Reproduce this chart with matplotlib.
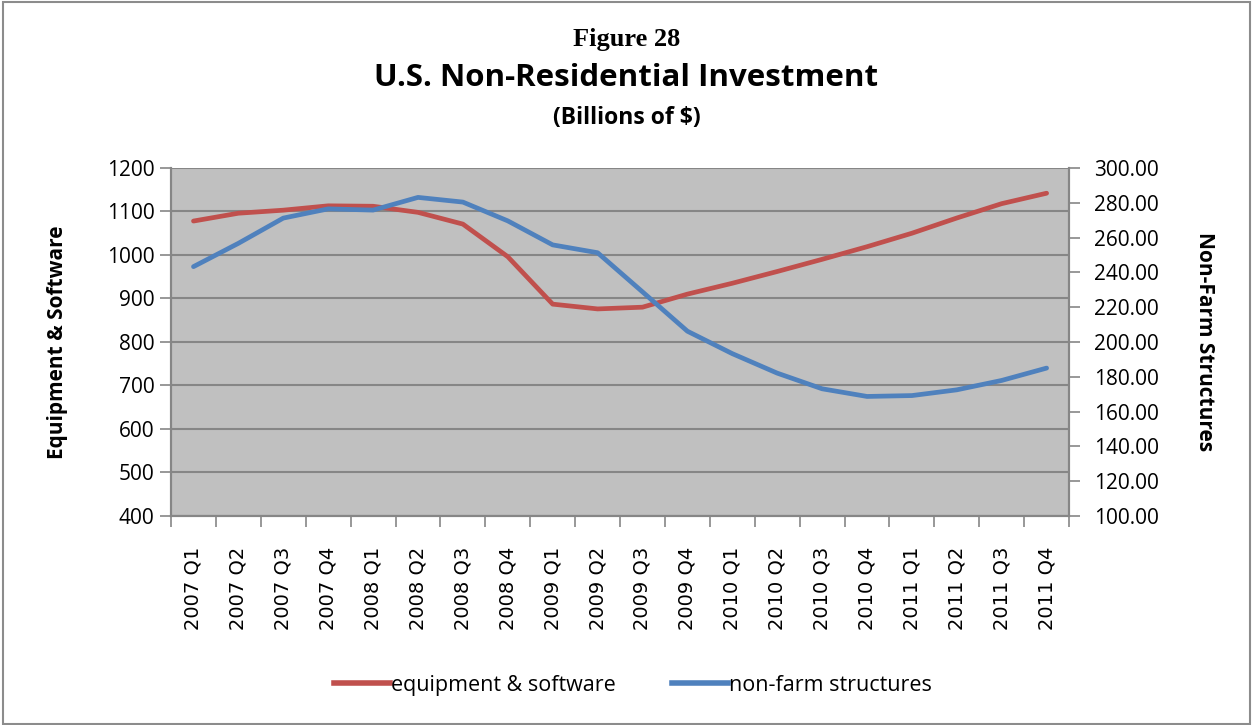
import matplotlib.pyplot as plt
from matplotlib.lines import Line2D
from matplotlib.patches import Rectangle

# ------------------------------------------------------------------------------
# Data
# ------------------------------------------------------------------------------
quarters = [
    "2007 Q1", "2007 Q2", "2007 Q3", "2007 Q4",
    "2008 Q1", "2008 Q2", "2008 Q3", "2008 Q4",
    "2009 Q1", "2009 Q2", "2009 Q3", "2009 Q4",
    "2010 Q1", "2010 Q2", "2010 Q3", "2010 Q4",
    "2011 Q1", "2011 Q2", "2011 Q3", "2011 Q4",
]
equip_software = [
    1078, 1096, 1103, 1113, 1112, 1098, 1071, 996, 887, 876,
    880, 910, 935, 962, 990, 1019, 1050, 1085, 1118, 1142,
]
nonfarm_struct = [
    243.3, 256.7, 271.2, 276.5, 275.8, 283.1, 280.4, 269.6, 255.8, 251.3,
    228.8, 206.2, 193.3, 182.1, 173.1, 168.7, 169.2, 172.5, 177.9, 185.0,
]
left_ticks = [400, 500, 600, 700, 800, 900, 1000, 1100, 1200]
right_ticks = [100, 120, 140, 160, 180, 200, 220, 240, 260, 280, 300]

RED = "#C0504D"
BLUE = "#4F81BD"
GRID = "#868686"
SANS = "Open Sans"

fig = plt.figure(figsize=(12.53, 7.25), dpi=100)
ax = fig.add_axes([0.1365, 0.2883, 0.7167, 0.48])
ax2 = ax.twinx()

x = list(range(len(quarters)))
ax.plot(x, equip_software, color=RED, lw=3.4, solid_capstyle="round", zorder=3)
ax2.plot(x, nonfarm_struct, color=BLUE, lw=3.4, solid_capstyle="round", zorder=3)

# left axis
ax.set_facecolor("#C0C0C0")
ax.set_xlim(-0.5, len(quarters) - 0.5)
ax.set_ylim(400, 1200)
ax.set_yticks(left_ticks)
ax.set_yticklabels([str(v) for v in left_ticks], fontsize=15, family=SANS)
ax.yaxis.grid(True, color=GRID, lw=1.5)
ax.set_axisbelow(True)

# category ticks sit on the boundaries, labels in the middle
ax.set_xticks([i - 0.5 for i in range(len(quarters) + 1)])
ax.set_xticklabels([])
ax.set_xticks(x, minor=True)
ax.set_xticklabels(quarters, minor=True, rotation=90, fontsize=14,
                   family="DejaVu Sans")
ax.tick_params(axis="x", which="minor", length=0, pad=22)
ax.tick_params(axis="x", which="major", length=8, color=GRID, width=1.2)
ax.tick_params(axis="y", length=8, color=GRID, width=1.2, pad=4)

ax.set_ylabel("Equipment & Software", fontsize=15, fontweight="bold",
              family=SANS, labelpad=28)

# right axis
ax2.set_ylim(100, 300)
ax2.set_yticks(right_ticks)
ax2.set_yticklabels([f"{v:.2f}" for v in right_ticks], fontsize=15, family=SANS)
ax2.tick_params(axis="y", length=8, color=GRID, width=1.2, pad=10)
ax2.set_ylabel("Non-Farm Structures", fontsize=15, fontweight="bold",
               family=SANS, rotation=-90, labelpad=40)

for a in (ax, ax2):
    for s in a.spines.values():
        s.set_color(GRID)
        s.set_linewidth(1.5)
    a.spines["top"].set_visible(False)

# titles
fig.text(0.5, 0.945, "Figure 28", ha="center", va="center", fontsize=19,
         fontweight="bold", family="Liberation Serif")
fig.text(0.5, 0.893, "U.S. Non-Residential Investment", ha="center",
         va="center", fontsize=22.5, fontweight="bold", family=SANS)
fig.text(0.5, 0.837, "(Billions of $)", ha="center", va="center",
         fontsize=16.5, fontweight="bold", family=SANS)

# legend
handles = [
    Line2D([], [], color=RED, lw=4),
    Line2D([], [], color=BLUE, lw=4),
]
fig.legend(handles, ["equipment & software", "non-farm structures"],
           loc="center", bbox_to_anchor=(0.505, 0.055), ncol=2, frameon=False,
           prop={"family": SANS, "size": 15.5}, handlelength=2.6,
           handletextpad=0.05, columnspacing=2.6)

# outer frame
fig.patches.append(Rectangle((0.002, 0.002), 0.996, 0.995,
                             transform=fig.transFigure, fill=False,
                             edgecolor="#8C8C8C", lw=1.5))

fig.savefig("out.png", dpi=100)
